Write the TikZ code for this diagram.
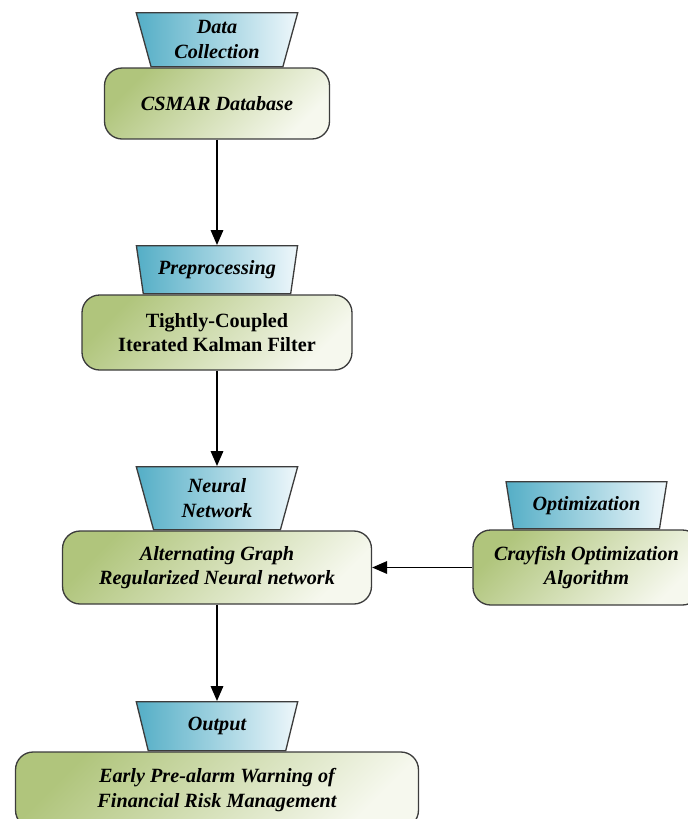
\documentclass[tikz,border=0pt]{standalone}
\usepackage{fontspec}
\setmainfont{Liberation Serif}
\usetikzlibrary{positioning, arrows.meta, shapes.geometric}

\definecolor{tealdark}{RGB}{84,174,198}
\definecolor{teallight}{RGB}{238,247,251}
\definecolor{olivedark}{RGB}{176,197,124}
\definecolor{olivelight}{RGB}{246,248,238}
\definecolor{edgegray}{RGB}{60,60,60}

\begin{document}
\begin{tikzpicture}[
  x=0.02cm, y=-0.02cm,
  align=center,
  font=\fontsize{11.5}{14}\selectfont\bfseries\itshape,
  stage/.style={
    draw=edgegray, rectangle, rounded corners=10pt,
    line width=0.75pt, inner sep=4pt,
    top color=olivedark, bottom color=olivelight, shading angle=45,
    minimum height=1.48cm
  },
  tag/.style={
    draw=edgegray, trapezium, shape border rotate=180,
    trapezium left angle=77, trapezium right angle=77,
    trapezium stretches=true,
    minimum width=3.24cm, line width=0.75pt, inner sep=2pt,
    left color=tealdark, right color=teallight
  },
  arr/.style={draw, -{Triangle[length=0.3cm, width=0.25cm]}, line width=1pt},
]

\def\xM{217}
\def\xR{586.5}

\useasboundingbox (0,0) rectangle (688,819);

%% ====================================================================
%%  MAIN CHAIN
%% ====================================================================
\node[stage, minimum width=4.5cm, minimum height=1.42cm] (csmar) at (\xM, 103.5) {CSMAR Database};
\node[tag, minimum height=1.08cm, above=0pt of csmar] (collect) {Data\\Collection};

\node[stage, minimum width=5.4cm, minimum height=1.5cm] (kalman) at (\xM, 332.5)
  {\upshape Tightly-Coupled\\\upshape Iterated Kalman Filter};
\node[tag, minimum height=0.96cm, above=0pt of kalman] (prep) {Preprocessing};

\node[stage, minimum width=6.18cm, minimum height=1.46cm] (agrnn) at (\xM, 567.5)
  {Alternating Graph\\Regularized Neural network};
\node[tag, minimum height=1.26cm, above=0pt of agrnn] (neural) {Neural\\Network};

\node[stage, minimum width=8.06cm, minimum height=1.52cm] (warn) at (\xM, 790)
  {Early Pre-alarm Warning of\\Financial Risk Management};
\node[tag, minimum height=0.98cm, above=0pt of warn] (output) {Output};

%% ====================================================================
%%  SIDE BRANCH
%% ====================================================================
\node[stage, minimum width=4.54cm, minimum height=1.5cm] (coa) at (\xR, 567.5)
  {Crayfish Optimization\\Algorithm};
\node[tag, minimum height=0.94cm, above=0pt of coa] (optim) {Optimization};

%% -- arrows --
\draw[arr] (csmar.south) -- (prep.north);
\draw[arr] (kalman.south) -- (neural.north);
\draw[arr] (agrnn.south) -- (output.north);
\draw[arr] (coa.west) -- (agrnn.east);

\end{tikzpicture}
\end{document}
